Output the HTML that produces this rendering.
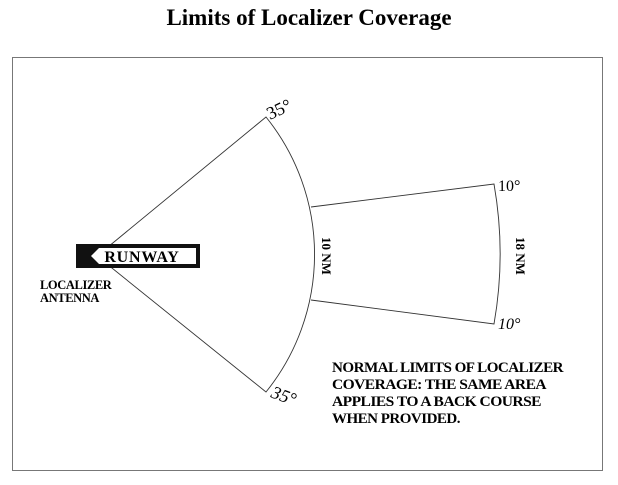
<!DOCTYPE html>
<html><head><meta charset="utf-8"><style>
body{margin:0;width:618px;height:480px;background:#fff;overflow:hidden}
</style></head><body>
<svg width="618" height="480" xmlns="http://www.w3.org/2000/svg" font-family="Liberation Serif, serif">
<text x="309" y="25" text-anchor="middle" font-size="23" font-weight="bold">Limits of Localizer Coverage</text>
<rect x="12.5" y="57.5" width="590" height="413" fill="none" stroke="#777" stroke-width="1"/>
<g fill="none" stroke="#333" stroke-width="0.9">
<path d="M97 256 L266 117 A219 219 0 0 1 266 392 Z"/>
<path d="M311 207 L494 184 A403 403 0 0 1 494 324 L311 300"/>
</g>
<rect x="76" y="244" width="124" height="24" fill="#111"/>
<polygon points="99,248 196,248 196,264 99,264 91,256" fill="#fff"/>
<text x="142" y="262" text-anchor="middle" font-size="16" font-weight="bold" letter-spacing="0.8">RUNWAY</text>
<g font-size="12.5" font-weight="bold" letter-spacing="-0.4">
<text x="40" y="289">LOCALIZER</text>
<text x="40" y="302">ANTENNA</text>
</g>
<g font-size="14.5" font-weight="bold" letter-spacing="-0.5">
<text x="332" y="372" textLength="231" lengthAdjust="spacingAndGlyphs">NORMAL LIMITS OF LOCALIZER</text>
<text x="332" y="389" textLength="214" lengthAdjust="spacingAndGlyphs">COVERAGE:  THE SAME AREA</text>
<text x="332" y="406" textLength="209" lengthAdjust="spacingAndGlyphs">APPLIES TO A BACK COURSE</text>
<text x="332" y="423" textLength="128" lengthAdjust="spacingAndGlyphs">WHEN PROVIDED.</text>
</g>
<text transform="translate(322,256) rotate(90)" text-anchor="middle" font-size="13" font-weight="bold">10 NM</text>
<text transform="translate(516,256) rotate(90)" text-anchor="middle" font-size="13" font-weight="bold">18 NM</text>
<text transform="translate(270,120) rotate(-25)" font-size="18">35°</text>
<text transform="translate(270,397) rotate(20)" font-size="18" font-style="italic">35°</text>
<text x="498" y="191" font-size="16">10°</text>
<text x="498" y="329" font-size="16" font-style="italic">10°</text>
</svg>
</body></html>
